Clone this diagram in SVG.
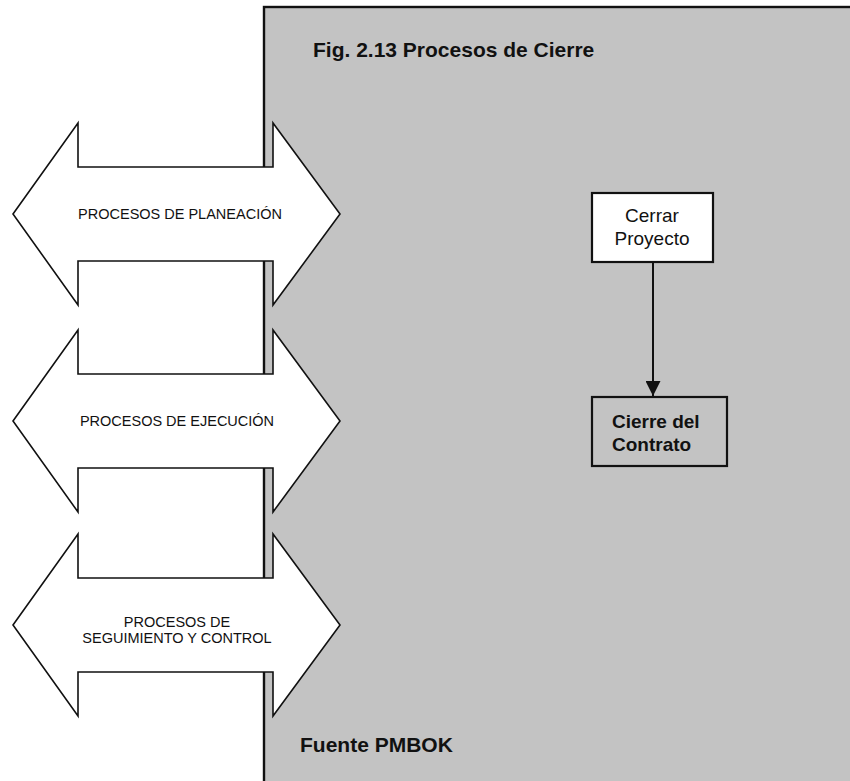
<svg xmlns="http://www.w3.org/2000/svg" width="850" height="781" viewBox="0 0 850 781">
  <style>
    .lbl { font-family: "Liberation Sans", Arial, sans-serif; fill: #111; }
    .band { fill: #fff; stroke: #111; stroke-width: 1.6; stroke-linejoin: miter; }
    .band-text { font-size: 14.5px; text-anchor: middle; }
    .box { stroke: #111; stroke-width: 2.2; }
    .box-text { font-size: 19px; }
    .head { font-size: 21px; font-weight: bold; }
  </style>
  <defs>
    <!-- double-headed band shape, centred on y = 0 -->
    <path id="band-shape" d="M13,0 L78,-91 L78,-47 L273,-47 L273,-91 L340,0 L273,91 L273,47 L78,47 L78,91 Z"/>
    <marker id="arrow-end" viewBox="0 0 10 10" refX="10" refY="5" markerUnits="userSpaceOnUse" markerWidth="15" markerHeight="15" orient="auto">
      <path d="M0,0 L10,5 L0,10 Z" fill="#111"/>
    </marker>
  </defs>

  <!-- white page -->
  <rect x="0" y="0" width="850" height="781" fill="#fff"/>

  <!-- grey panel holding the closing processes -->
  <g id="panel">
    <rect x="264" y="7" width="600" height="790" fill="#c3c3c3" stroke="#111" stroke-width="2.4"/>
    <text class="lbl head" x="313" y="57">Fig. 2.13 Procesos de Cierre</text>
    <text class="lbl head" x="300" y="752">Fuente PMBOK</text>
  </g>

  <!-- process group bands on the left -->
  <g id="planeacion">
    <use href="#band-shape" class="band" transform="translate(0,214)"/>
    <text class="lbl band-text" x="180" y="219">PROCESOS DE PLANEACIÓN</text>
  </g>
  <g id="ejecucion">
    <use href="#band-shape" class="band" transform="translate(0,421)"/>
    <text class="lbl band-text" x="177" y="426">PROCESOS DE EJECUCIÓN</text>
  </g>
  <g id="seguimiento">
    <use href="#band-shape" class="band" transform="translate(0,625)"/>
    <text class="lbl band-text" x="177" y="627">PROCESOS DE</text>
    <text class="lbl band-text" x="177" y="643">SEGUIMIENTO Y CONTROL</text>
  </g>

  <!-- closing process nodes -->
  <g id="cerrar-proyecto">
    <rect class="box" x="592" y="193" width="121" height="69" fill="#fff"/>
    <text class="lbl box-text" x="652" y="222" text-anchor="middle">Cerrar</text>
    <text class="lbl box-text" x="652" y="245" text-anchor="middle">Proyecto</text>
  </g>
  <g id="cierre-contrato">
    <rect class="box" x="592" y="397" width="135" height="69" fill="#c3c3c3"/>
    <text class="lbl box-text" x="612" y="428" font-weight="bold" font-size="18.5">Cierre del</text>
    <text class="lbl box-text" x="612" y="451" font-weight="bold" font-size="18.5">Contrato</text>
  </g>

  <!-- connectors -->
  <g id="connectors">
    <line x1="653" y1="262" x2="653" y2="396" stroke="#111" stroke-width="2" marker-end="url(#arrow-end)"/>
  </g>
</svg>
